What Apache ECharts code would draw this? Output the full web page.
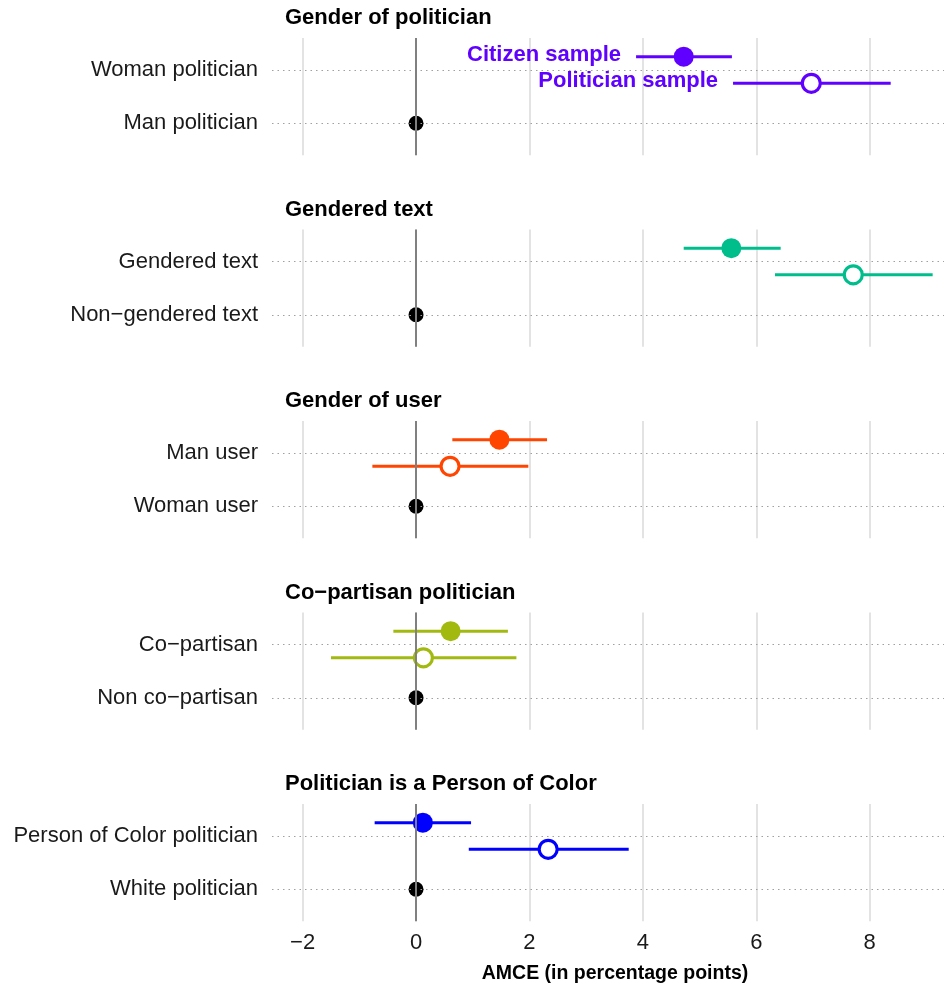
<!DOCTYPE html>
<html>
<head>
<meta charset="utf-8">
<script src="https://cdn.jsdelivr.net/npm/echarts@6/dist/echarts.min.js"></script>
<style>
  html, body { margin: 0; padding: 0; background: #ffffff; }
  #chart { width: 944px; height: 988px; }
</style>
</head>
<body>
<div id="chart"></div>
<script>
// Attribute panels, the contrasted level and its baseline level
const panelTitles = ['Gender of politician', 'Gendered text', 'Gender of user', 'Co\u2212partisan politician', 'Politician is a Person of Color'];
const treatedLevels = ['Woman politician', 'Gendered text', 'Man user', 'Co\u2212partisan', 'Person of Color politician'];
const baselineLevels = ['Man politician', 'Non\u2212gendered text', 'Woman user', 'Non co\u2212partisan', 'White politician'];

// AMCE estimates with 95% intervals (percentage points)
const citizenEst = [4.72, 5.56, 1.47, 0.61, 0.12];
const citizenLo  = [3.88, 4.72, 0.64, -0.40, -0.73];
const citizenHi  = [5.57, 6.43, 2.31, 1.62, 0.97];
const politicianEst = [6.97, 7.71, 0.60, 0.13, 2.33];
const politicianLo  = [5.59, 6.33, -0.77, -1.50, 0.93];
const politicianHi  = [8.37, 9.11, 1.98, 1.77, 3.75];
const baselineEst = [0, 0, 0, 0, 0];

const xTicks = [-2, 0, 2, 4, 6, 8];
const sampleNames = ['Citizen sample', 'Politician sample'];
const xLabel = 'AMCE (in percentage points)';

const panelColors = ['#6000FF', '#00BE8C', '#FF4500', '#A2BA10', '#0000FF'];
const FONT = '"Liberation Sans", Arial, Helvetica, sans-serif';

// layout of the stacked panels
const firstRow = 70, rowGap = 53.3, panelStep = 191.5;
const X_MIN = -2.54, X_MAX = 9.31;
const DODGE = 0.25;

const grids = [], xAxes = [], yAxes = [], series = [], titles = [];

const fmtNum = v => (v < 0 ? '\u2212' + (-v) : String(v));

panelTitles.forEach((title, i) => {
  const row1 = firstRow + panelStep * i;
  const top = row1 - 0.6 * rowGap;
  const height = 2.2 * rowGap;
  const col = panelColors[i];
  const last = i === panelTitles.length - 1;

  grids.push({ left: 272, right: 0, top: top, height: height, containLabel: false });

  titles.push({
    text: title, left: 285, top: row1 - 63, padding: 0,
    textStyle: { fontFamily: FONT, fontSize: 22, fontWeight: 'bold', color: '#000' }
  });

  xAxes.push({
    gridIndex: i, type: 'value', min: X_MIN, max: X_MAX,
    axisLine: { show: false }, axisTick: { show: false },
    axisLabel: {
      show: last, customValues: xTicks, formatter: fmtNum,
      fontFamily: FONT, fontSize: 22, color: '#1a1a1a', margin: 11
    },
    splitLine: { show: true, showMinLine: false, showMaxLine: false, lineStyle: { color: '#dadada', width: 1.5 } },
    name: last ? xLabel : '', nameLocation: 'middle', nameGap: 42,
    nameTextStyle: { fontFamily: FONT, fontSize: 19.5, fontWeight: 'bold', color: '#000', padding: [0, 0, 0, 14] }
  });

  yAxes.push({
    gridIndex: i, type: 'value', min: 0.4, max: 2.6, inverse: true,
    axisLine: { show: false }, axisTick: { show: false }, splitLine: { show: false },
    axisLabel: {
      customValues: [1, 2],
      formatter: v => (Math.round(v) === 1 ? treatedLevels[i] : baselineLevels[i]),
      fontFamily: FONT, fontSize: 22, color: '#1a1a1a', margin: 14
    }
  });

  // dotted row guides and the zero reference line
  series.push({
    type: 'scatter', xAxisIndex: i, yAxisIndex: i, data: [], z: 1, silent: true,
    markLine: {
      silent: true, symbol: ['none', 'none'], label: { show: false }, animation: false,
      data: [
        { yAxis: 1, lineStyle: { color: '#a0a0a0', width: 1, type: [1.5, 4] } },
        { yAxis: 2, lineStyle: { color: '#a0a0a0', width: 1, type: [1.5, 4] } },
        { xAxis: 0, lineStyle: { color: '#808080', width: 2, type: 'solid' } }
      ]
    }
  });

  // confidence intervals
  series.push({
    type: 'line', xAxisIndex: i, yAxisIndex: i, z: 2, silent: true, showSymbol: false,
    lineStyle: { color: col, width: 3 },
    data: [[citizenLo[i], 1 - DODGE], [citizenHi[i], 1 - DODGE]]
  });
  series.push({
    type: 'line', xAxisIndex: i, yAxisIndex: i, z: 2, silent: true, showSymbol: false,
    lineStyle: { color: col, width: 3 },
    data: [[politicianLo[i], 1 + DODGE], [politicianHi[i], 1 + DODGE]]
  });

  // point estimates
  series.push({
    type: 'scatter', xAxisIndex: i, yAxisIndex: i, z: 4, silent: true,
    symbol: 'circle', symbolSize: 20, itemStyle: { color: col, opacity: 1 },
    data: [[citizenEst[i], 1 - DODGE]]
  });
  series.push({
    type: 'scatter', xAxisIndex: i, yAxisIndex: i, z: 4, silent: true,
    symbol: 'circle', symbolSize: 18, itemStyle: { color: '#ffffff', borderColor: col, borderWidth: 3.2, opacity: 1 },
    data: [[politicianEst[i], 1 + DODGE]]
  });
  series.push({
    type: 'scatter', xAxisIndex: i, yAxisIndex: i, z: 4, silent: true,
    symbol: 'circle', symbolSize: 15, itemStyle: { color: '#000000', opacity: 1 },
    data: [[baselineEst[i], 2]]
  });

  // sample annotations in the first panel
  if (i === 0) {
    series.push({
      type: 'scatter', xAxisIndex: i, yAxisIndex: i, z: 5, silent: true,
      symbolSize: 0, itemStyle: { opacity: 1 },
      label: {
        show: true, position: 'left', distance: 15, formatter: '{b}', opacity: 1,
        fontFamily: FONT, fontSize: 22, fontWeight: 'bold', color: col, offset: [0, -2]
      },
      data: [
        { name: sampleNames[0], value: [citizenLo[i], 1 - DODGE] },
        { name: sampleNames[1], value: [politicianLo[i], 1 + DODGE] }
      ]
    });
  }
});

const chart = echarts.init(document.getElementById('chart'), null, { renderer: 'canvas' });
chart.setOption({
  animation: false,
  backgroundColor: '#ffffff',
  title: titles,
  grid: grids,
  xAxis: xAxes,
  yAxis: yAxes,
  series: series
});
</script>
</body>
</html>
